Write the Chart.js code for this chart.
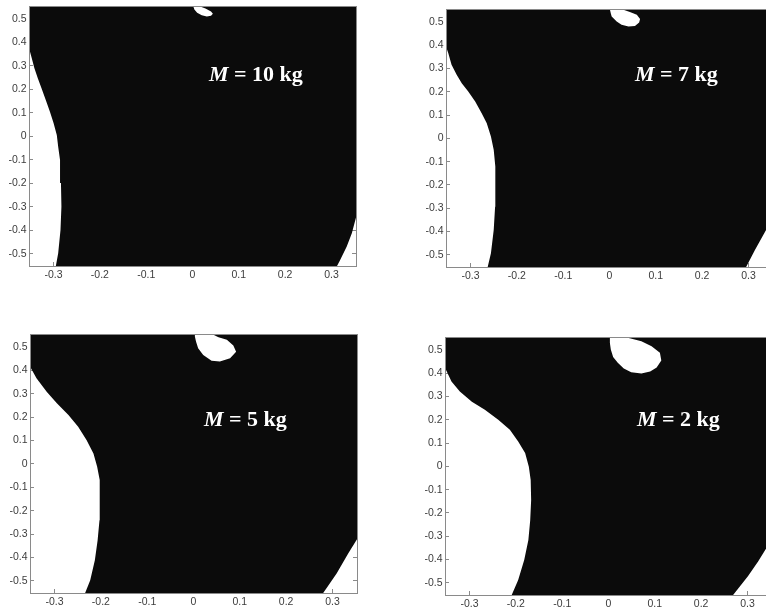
<!DOCTYPE html>
<html>
<head>
<meta charset="utf-8">
<script src="https://cdn.jsdelivr.net/npm/chart.js@4.4.1/dist/chart.umd.min.js"></script>
<style>
html,body{margin:0;padding:0;background:#fff;overflow:hidden;width:766px;height:609px;position:relative}
canvas{position:absolute}
.lab{position:absolute;color:#fff;font-weight:bold;font-size:22px;font-family:'Liberation Serif','Times New Roman',serif;line-height:22px;white-space:nowrap;z-index:5}
.lab i{font-style:italic}
</style>
</head>
<body>
<canvas id="c1" width="380" height="300"></canvas>
<canvas id="c2" width="380" height="300"></canvas>
<canvas id="c3" width="380" height="300"></canvas>
<canvas id="c4" width="380" height="300"></canvas>
<script>
// ---- tick labels ----
const xTicks = [-0.3,-0.2,-0.1,0,0.1,0.2,0.3];
const yTicks = [-0.5,-0.4,-0.3,-0.2,-0.1,0,0.1,0.2,0.3,0.4,0.5];
const xRange = [-0.353, 0.353];
const yRange = [-0.552, 0.552];
const masses = [10, 7, 5, 2];

// ---- M = 10 kg : boundary of the white regions ----
const leftEdge10 = [[-0.352,0.369],[-0.347,0.333],[-0.3415,0.291],[-0.334,0.248],[-0.326,0.205],[-0.317,0.156],[-0.308,0.106],[-0.300,0.057],[-0.293,0.006],[-0.290,-0.044],[-0.286,-0.100],[-0.284,-0.199],[-0.283,-0.299],[-0.285,-0.399],[-0.290,-0.498],[-0.295,-0.552]];
const notch10 = [[0.002,0.552],[0.004,0.540],[0.010,0.527],[0.020,0.516],[0.031,0.511],[0.040,0.514],[0.044,0.522],[0.040,0.532],[0.028,0.545],[0.018,0.552]];
const corner10 = [[0.362,-0.300],[0.353,-0.345],[0.344,-0.412],[0.333,-0.469],[0.318,-0.530],[0.312,-0.552]];

// ---- M = 7 kg ----
const leftEdge7 = [[-0.353,0.394],[-0.348,0.366],[-0.341,0.316],[-0.330,0.273],[-0.319,0.237],[-0.305,0.201],[-0.290,0.158],[-0.276,0.108],[-0.265,0.065],[-0.256,0.008],[-0.250,-0.049],[-0.247,-0.121],[-0.246,-0.192],[-0.247,-0.293],[-0.250,-0.393],[-0.256,-0.493],[-0.263,-0.552]];
const notch7 = [[0.001,0.552],[0.003,0.535],[0.0047,0.523],[0.0155,0.502],[0.026,0.488],[0.041,0.480],[0.055,0.483],[0.064,0.497],[0.066,0.512],[0.059,0.531],[0.044,0.543],[0.030,0.552]];
const corner7 = [[0.362,-0.307],[0.338,-0.393],[0.314,-0.479],[0.295,-0.552]];

// ---- M = 5 kg ----
const leftEdge5 = [[-0.353,0.416],[-0.339,0.366],[-0.317,0.309],[-0.295,0.259],[-0.270,0.209],[-0.249,0.159],[-0.231,0.102],[-0.216,0.045],[-0.208,-0.012],[-0.203,-0.069],[-0.202,-0.155],[-0.203,-0.241],[-0.207,-0.326],[-0.213,-0.412],[-0.223,-0.498],[-0.234,-0.552]];
const notch5 = [[0.003,0.552],[0.003,0.545],[0.0054,0.523],[0.010,0.495],[0.021,0.466],[0.039,0.441],[0.057,0.438],[0.079,0.452],[0.092,0.480],[0.086,0.506],[0.072,0.531],[0.054,0.542],[0.043,0.552]];
const corner5 = [[0.362,-0.290],[0.354,-0.319],[0.334,-0.383],[0.309,-0.469],[0.280,-0.552]];

// ---- M = 2 kg ----
const leftEdge2 = [[-0.351,0.415],[-0.339,0.364],[-0.321,0.321],[-0.295,0.278],[-0.267,0.243],[-0.238,0.200],[-0.213,0.157],[-0.195,0.107],[-0.180,0.057],[-0.172,-0.001],[-0.168,-0.058],[-0.167,-0.144],[-0.169,-0.230],[-0.173,-0.316],[-0.182,-0.402],[-0.195,-0.488],[-0.209,-0.552]];
const notch2 = [[0.003,0.552],[0.003,0.530],[0.005,0.502],[0.010,0.470],[0.020,0.445],[0.033,0.420],[0.049,0.404],[0.071,0.399],[0.090,0.407],[0.104,0.425],[0.114,0.455],[0.111,0.488],[0.093,0.516],[0.071,0.537],[0.046,0.550],[0.040,0.552]];
const corner2 = [[0.362,-0.284],[0.353,-0.312],[0.339,-0.357],[0.323,-0.408],[0.301,-0.472],[0.269,-0.552]];

// plot boxes on the page (left, top, width, height) and label anchors (left, baseline)
const panels = [
  {id:'c1', box:[29,7,327,259],  lab:[209,81.7],  left:leftEdge10, notch:notch10, corner:corner10},
  {id:'c2', box:[446,10,327,257], lab:[635,81.7],  left:leftEdge7,  notch:notch7,  corner:corner7},
  {id:'c3', box:[30,335,327,258], lab:[204,426],   left:leftEdge5,  notch:notch5,  corner:corner5},
  {id:'c4', box:[445,338,327,257],lab:[637,426],   left:leftEdge2,  notch:notch2,  corner:corner2}
];

// black region outline built from the boundaries; outer points lie outside the axes (clipped)
function region(left, notch, corner) {
  const O = 0.40, P = 0.60;
  const pts = [[-O,-P]];
  pts.push([left[left.length-1][0], -P]);
  for (let i = left.length-1; i >= 0; i--) pts.push(left[i]);
  pts.push([-O, left[0][1]]);
  pts.push([-O, P]);
  pts.push([notch[0][0], P]);
  notch.forEach(p => pts.push(p));
  pts.push([notch[notch.length-1][0], P]);
  pts.push([O, P]);
  pts.push([O, corner[0][1]]);
  corner.forEach(p => pts.push(p));
  pts.push([corner[corner.length-1][0], -P]);
  pts.push([O, -P]);
  return pts.map(([x,y]) => ({x, y}));
}

Chart.defaults.font.family = "'Liberation Sans', Arial, sans-serif";
const axisCol = '#8a8a8a';
const labelCol = '#3c3c3c';
const fmt = v => (Math.abs(v) < 1e-9 ? '0' : v.toFixed(1));

function scale(pos, ticksArr, range, showLabels) {
  return {
    type: 'linear', position: pos, min: range[0], max: range[1],
    afterBuildTicks: s => { s.ticks = ticksArr.map(v => ({value: v})); },
    afterFit: s => {
      if (pos === 'left') s.width = 29;
      else if (pos === 'bottom') s.height = 22;
      else if (pos === 'right') s.width = 0;
      else s.height = 0;
    },
    grid: {drawOnChartArea: false, drawTicks: true, tickLength: -4, color: axisCol, lineWidth: 1},
    border: {display: true, color: axisCol, width: 1, z: 1},
    ticks: {display: showLabels, autoSkip: false, maxRotation: 0, minRotation: 0,
            padding: pos === 'left' ? 6.5 : 7, color: labelCol, font: {size: 10.5}, callback: fmt}
  };
}

function config(p) {
  return {
    type: 'scatter',
    data: {datasets: [{
      data: region(p.left, p.notch, p.corner),
      showLine: true, fill: 'shape', tension: 0,
      backgroundColor: '#0b0b0b', borderColor: 'rgba(0,0,0,0)', borderWidth: 0,
      pointRadius: 0, pointHoverRadius: 0
    }]},
    options: {
      responsive: false, maintainAspectRatio: false, animation: false, events: [],
      layout: {padding: {left: 0, right: 2, top: 2, bottom: 0}},
      plugins: {legend: {display: false}, tooltip: {enabled: false}},
      scales: {
        x: scale('bottom', xTicks, xRange, true),
        x2: scale('top', xTicks, xRange, false),
        y: scale('left', yTicks, yRange, true),
        y2: scale('right', yTicks, yRange, false)
      }
    }
  };
}

panels.forEach((p, i) => {
  const cv = document.getElementById(p.id);
  const W0 = 380, H0 = 300;
  cv.width = W0; cv.height = H0;
  let ch = new Chart(cv, config(p));
  const ca = ch.chartArea;
  const dl = ca.left, dt = ca.top, dr = W0 - ca.right, db = H0 - ca.bottom;
  ch.destroy();
  const [bx, by, bw, bh] = p.box;
  cv.width = Math.round(dl + bw + dr);
  cv.height = Math.round(dt + bh + db);
  cv.style.left = (bx - dl) + 'px';
  cv.style.top = (by - dt) + 'px';
  ch = new Chart(cv, config(p));

  const d = document.createElement('div');
  d.className = 'lab';
  d.innerHTML = '<i>M</i> = ' + masses[i] + ' kg';
  d.style.left = p.lab[0] + 'px';
  d.style.top = (p.lab[1] - 18.4) + 'px';
  document.body.appendChild(d);
});
</script>
</body>
</html>
